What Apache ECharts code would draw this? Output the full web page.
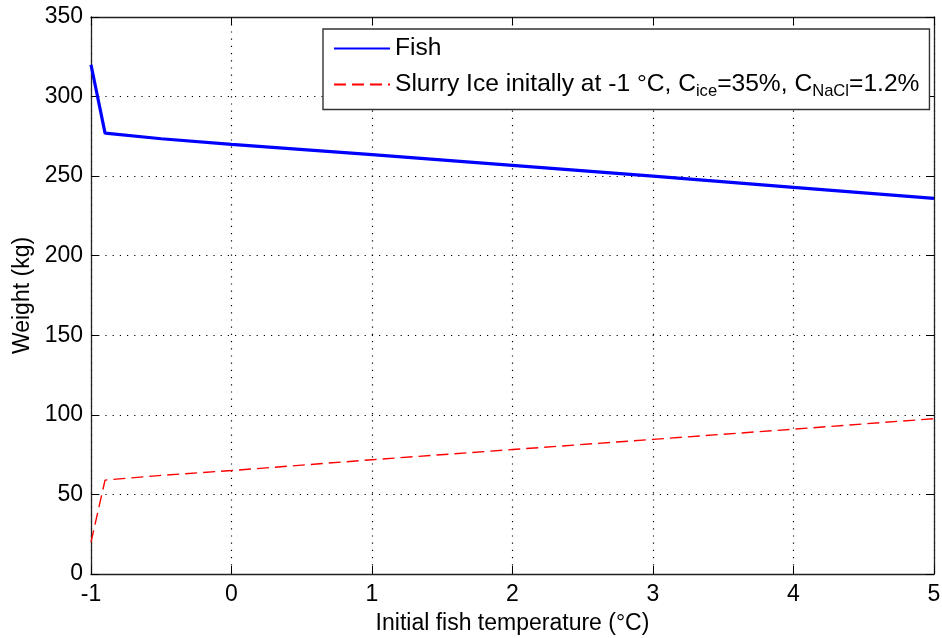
<!DOCTYPE html>
<html>
<head>
<meta charset="utf-8">
<script src="https://cdn.jsdelivr.net/npm/echarts@6/dist/echarts.min.js"></script>
<style>
  html, body { margin: 0; padding: 0; background: #fff; }
  #chart { width: 942px; height: 638px; }
</style>
</head>
<body>
<div id="chart"></div>
<script>
// Initial fish temperature (°C)
const temperatures = [-1, -0.9, -0.5, 0, 1, 2, 3, 4, 5];
// Fish weight (kg)
const fishWeight = [320, 277, 273.5, 270, 263.5, 256.8, 250, 243, 236];
// Slurry ice weight (kg)
const slurryWeight = [20, 59, 62, 65, 71.8, 78.2, 84.6, 91, 97.6];

const FONT = 'Liberation Sans, Arial, sans-serif';

const pair = (xs, ys) => xs.map((x, i) => [x, ys[i]]);

const chart = echarts.init(document.getElementById('chart'), null, { renderer: 'canvas' });

const tickStyle = { show: true, inside: true, length: 8, lineStyle: { color: '#000', width: 1 } };
const gridLine = { show: true, lineStyle: { color: '#000', type: [1.2, 6], width: 1.2 } };
const frameLine = { show: true, onZero: false, lineStyle: { color: '#222', width: 1.3 } };

chart.setOption({
  animation: false,
  backgroundColor: '#fff',
  grid: { left: 91, right: 8, top: 17, bottom: 64, containLabel: false, outerBoundsMode: 'none' },
  legend: {
    show: true,
    left: 323,
    top: 29,
    orient: 'vertical',
    backgroundColor: '#fff',
    borderColor: '#333',
    borderWidth: 1.4,
    borderRadius: 0,
    padding: [7, 10, 10, 10],
    itemGap: 11,
    itemWidth: 56,
    itemHeight: 30,
    itemStyle: { color: 'transparent', borderWidth: 0, opacity: 0 },
    textStyle: {
      fontFamily: FONT,
      fontSize: 24.6,
      color: '#000',
      rich: {
        n: { fontFamily: FONT, fontSize: 24.6, color: '#000', lineHeight: 30 },
        s: { fontFamily: FONT, fontSize: 16.6, color: '#000', lineHeight: 6, verticalAlign: 'bottom' }
      }
    },
    formatter: function (name) {
      if (name === 'Fish') return '{n|Fish}';
      return '{n|Slurry Ice initally at -1 °C, C}{s|ice}{n|=35%, C}{s|NaCl}{n|=1.2%}';
    },
    data: ['Fish', 'Slurry']
  },
  xAxis: [
    {
      type: 'value', min: -1, max: 5, interval: 1,
      name: 'Initial fish temperature (°C)', nameLocation: 'middle', nameGap: 38,
      nameTextStyle: { fontFamily: FONT, fontSize: 23, color: '#000' },
      axisLine: frameLine,
      axisTick: tickStyle,
      axisLabel: { fontFamily: FONT, fontSize: 23, color: '#000', margin: 9 },
      splitLine: gridLine
    },
    {
      type: 'value', min: -1, max: 5, interval: 1, position: 'top',
      axisLine: frameLine,
      axisTick: tickStyle, axisLabel: { show: false }, splitLine: { show: false }
    }
  ],
  yAxis: [
    {
      type: 'value', min: 0, max: 350, interval: 50,
      name: 'Weight (kg)', nameLocation: 'middle', nameGap: 54,
      nameTextStyle: { fontFamily: FONT, fontSize: 23, color: '#000' },
      axisLine: frameLine,
      axisTick: tickStyle,
      axisLabel: { fontFamily: FONT, fontSize: 23, color: '#000', margin: 8 },
      splitLine: gridLine
    },
    {
      type: 'value', min: 0, max: 350, interval: 50, position: 'right',
      axisLine: frameLine,
      axisTick: tickStyle, axisLabel: { show: false }, splitLine: { show: false }
    }
  ],
  series: [
    {
      name: 'Fish', type: 'line', data: pair(temperatures, fishWeight),
      showSymbol: false, symbol: 'none',
      lineStyle: { color: '#0000ff', width: 3.2 }, itemStyle: { color: '#0000ff' }
    },
    {
      name: 'Slurry', type: 'line', data: pair(temperatures, slurryWeight),
      showSymbol: false, symbol: 'none',
      lineStyle: { color: '#ff0000', width: 1.4, type: [12, 6] }, itemStyle: { color: '#ff0000' }
    }
  ]
});
</script>
</body>
</html>
